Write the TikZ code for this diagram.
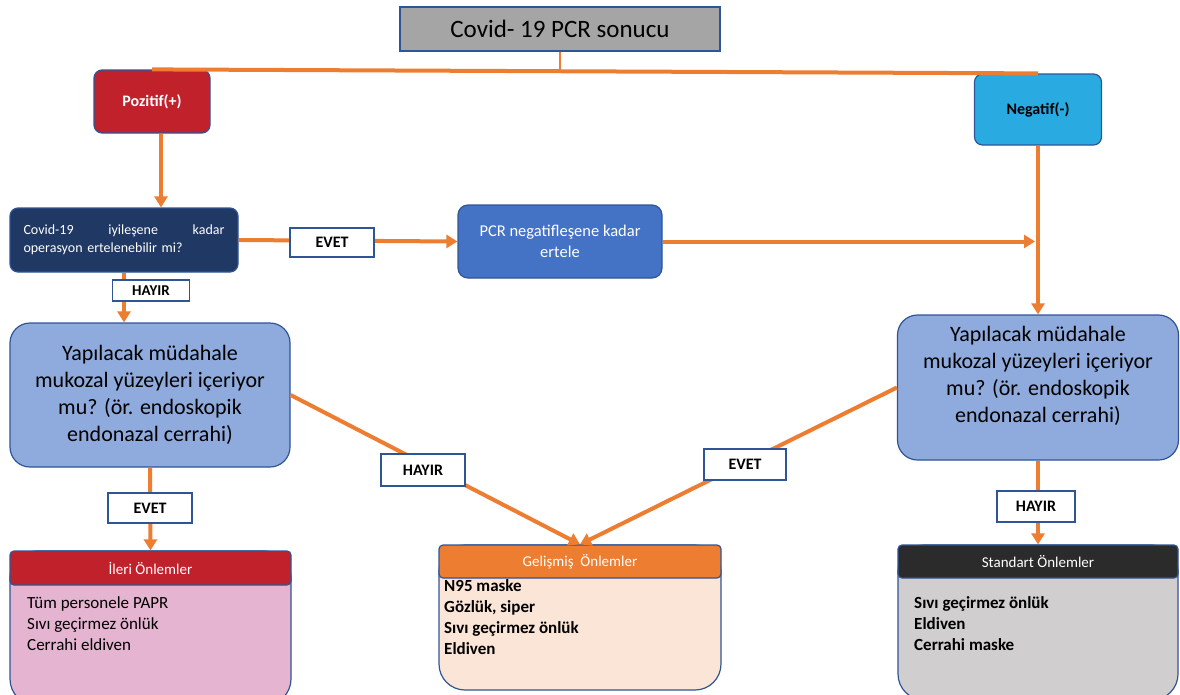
\documentclass[tikz,border=0pt]{standalone}
\usepackage{fontspec}
\setmainfont{Carlito}
\usepackage{tikz}
\usetikzlibrary{arrows.meta}
\definecolor{flowline}{HTML}{ED7D31}
\definecolor{boxborder}{HTML}{2F5597}
\definecolor{titlegray}{HTML}{A5A5A5}
\definecolor{pozred}{HTML}{C0212B}
\definecolor{negblue}{HTML}{29ABE2}
\definecolor{navy}{HTML}{1F3864}
\definecolor{midblue}{HTML}{4472C4}
\definecolor{lightblue}{HTML}{8FAADC}
\definecolor{ileribody}{HTML}{E5B4D0}
\definecolor{gelbody}{HTML}{FBE5D6}
\definecolor{stdhead}{HTML}{2B2B2B}
\definecolor{stdbody}{HTML}{D0CECE}

\begin{document}
\begin{tikzpicture}[x=1pt,y=-1pt]
    % sizes are in pixels of the reference, y grows downwards
    \tikzset{>={Triangle[width=13pt,length=11pt]}}
    \tikzstyle{box}=[draw=boxborder, line width=1.2pt, inner sep=4pt, align=center]
    \tikzstyle{flow}=[flowline, line width=4pt]
    \tikzstyle{answer}=[box, fill=white, font=\fontsize{16}{18}\selectfont\bfseries, minimum width=84pt, minimum height=30pt]
    \tikzstyle{question}=[box, fill=lightblue, rounded corners=20pt, font=\fontsize{22}{27}\selectfont, minimum width=280pt, minimum height=144pt]
    \tikzstyle{bodybox}=[box, rounded corners=26pt]
    \tikzstyle{headbox}=[box, rounded corners=4pt, text=white, font=\fontsize{15}{18}\selectfont, minimum height=34pt]
    \tikzstyle{itemlist}=[inner sep=0pt, anchor=north west, align=left, font=\fontsize{17}{21}\selectfont]

    \useasboundingbox (0,0) rectangle (1180,694);

    % top of the chart
    \node[box, fill=titlegray, minimum width=320pt, minimum height=44pt, font=\fontsize{25}{28}\selectfont] (title) at (560,29) {Covid- 19 PCR sonucu};
    \node[box, fill=pozred, rounded corners=8pt, minimum width=116pt, minimum height=63pt, text=white, font=\fontsize{16}{18}\selectfont\bfseries] (poz) at (152,101.5) {Pozitif(+)};
    \node[box, fill=negblue, rounded corners=8pt, minimum width=127pt, minimum height=71pt, font=\fontsize{16}{18}\selectfont\bfseries] (neg) at (1038,109.5) {Negatif(-)};
    \draw[flow] (poz.north) -- (neg.north);
    \draw[flowline, line width=2pt] (title.south) -- (title.south |- poz.north);

    % middle row
    \node[box, fill=navy, rounded corners=8pt, minimum width=228pt, minimum height=64pt, text width=201pt, align=left, text=white, font=\fontsize{14}{18}\selectfont] (covid) at (124,240) {\hbox to 201pt{Covid-19\hfill iyileşene\hfill kadar}\\operasyon ertelenebilir mi?};
    \node[box, fill=midblue, rounded corners=10pt, minimum width=204pt, minimum height=73pt, text=white, font=\fontsize{16.5}{21}\selectfont] (pcr) at (560,241.5) {PCR negatifleşene kadar\\ertele};
    \node[question] (rq1) at (150,395) {Yapılacak müdahale\\mukozal yüzeyleri içeriyor\\mu? (ör. endoskopik\\endonazal cerrahi)};
    \node[question, minimum width=281pt, minimum height=145pt] (rq2) at (1038,387.5) {Yapılacak müdahale\\mukozal yüzeyleri içeriyor\\mu? (ör. endoskopik\\endonazal cerrahi)\\\mbox{}};

    % bottom boxes
    \node[bodybox, fill=ileribody, minimum width=281pt, minimum height=154pt] (ileriBody) at (150.5,628) {};
    \node[headbox, fill=pozred, minimum width=281pt, anchor=north] (ileri) at (ileriBody.north) {İleri Önlemler};
    \node[itemlist] (ileriList) at (27,596) {Tüm personele PAPR\\Sıvı geçirmez önlük\\Cerrahi eldiven};

    \node[bodybox, fill=gelbody, minimum width=282pt, minimum height=145pt] (gelBody) at (580,617.5) {};
    \node[headbox, fill=flowline, minimum width=282pt, minimum height=33pt, anchor=north] (gel) at (gelBody.north) {Gelişmiş~ Önlemler};
    \node[itemlist, font=\fontsize{17}{21}\selectfont\bfseries] (gelList) at (444,579) {N95 maske\\Gözlük, siper\\Sıvı geçirmez önlük\\Eldiven};

    \node[bodybox, fill=stdbody, minimum width=280pt, minimum height=155pt] (stdBody) at (1038,622.5) {};
    \node[headbox, fill=stdhead, minimum width=280pt, minimum height=33pt, anchor=north] (std) at (stdBody.north) {Standart Önlemler};
    \node[itemlist, font=\fontsize{17}{21}\selectfont\bfseries] (stdList) at (914,596) {Sıvı geçirmez önlük\\Eldiven\\Cerrahi maske};

    % connectors
    \draw[flow, ->] ([xshift=9pt]poz.south) -- ([xshift=9pt]poz.south |- covid.north);
    \draw[flow, ->] (covid.east) -- (pcr.west);
    \draw[flow, ->] (pcr.east) -- ([xshift=-3pt]pcr.east -| neg.south);
    \draw[flow, ->] (neg.south) -- (rq2.north);
    \draw[flow, ->] (covid.south) -- (covid.south |- rq1.north);
    \draw[flow, ->] (rq1.south) -- (ileri.north);
    \draw[flow, ->] (rq1.east) -- (gel.north);
    \draw[flow, ->] (rq2.west) -- (gel.north);
    \draw[flow, ->] (rq2.south) -- (std.north);

    % answers on the connectors
    \node[answer, minimum width=84pt, minimum height=29pt] (evetTop) at (332,242.5) {EVET};
    \node[answer, minimum width=77pt, minimum height=21pt, font=\fontsize{15}{16}\selectfont\bfseries, inner sep=1pt] (hayirLeft) at (151,290.5) {HAYIR};
    \node[answer, minimum height=32pt] (hayirMid) at (423,470) {HAYIR};
    \node[answer, minimum width=82pt, minimum height=31pt] (evetMid) at (745,464.5) {EVET};
    \node[answer] (evetLeft) at (150,508) {EVET};
    \node[answer, minimum width=78pt, minimum height=31pt] (hayirRight) at (1036,506.5) {HAYIR};
\end{tikzpicture}
\end{document}
